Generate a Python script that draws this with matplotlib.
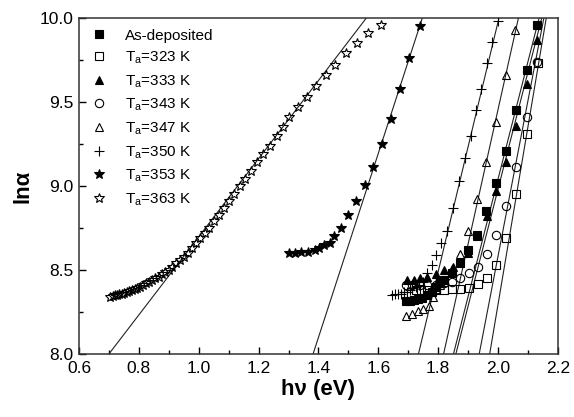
import matplotlib
matplotlib.use("Agg")
import matplotlib.pyplot as plt
from matplotlib.ticker import MultipleLocator

plt.rcParams['font.family'] = ['Liberation Sans', 'DejaVu Sans']

# ---------- data (hv in eV, ln(alpha)) ----------
asdep_x = [1.692, 1.705, 1.718, 1.731, 1.746, 1.764, 1.778, 1.792, 1.806, 1.820,
           1.846, 1.873, 1.901, 1.931, 1.961, 1.994, 2.026, 2.059, 2.098, 2.131]
asdep_y = [8.315, 8.318, 8.32, 8.33, 8.335, 8.35, 8.37, 8.40, 8.42, 8.44,
           8.48, 8.54, 8.62, 8.71, 8.85, 9.02, 9.21, 9.45, 9.69, 9.96]

t323_x = [1.725, 1.742, 1.764, 1.792, 1.820, 1.846, 1.873, 1.903, 1.933, 1.962,
          1.994, 2.026, 2.061, 2.098, 2.132]
t323_y = [8.38, 8.38, 8.38, 8.38, 8.38, 8.385, 8.385, 8.39, 8.415, 8.45,
          8.53, 8.69, 8.95, 9.31, 9.73]

t333_x = [1.695, 1.720, 1.740, 1.764, 1.792, 1.820, 1.848, 1.873, 1.901, 1.931,
          1.964, 1.994, 2.026, 2.061, 2.098, 2.131]
t333_y = [8.44, 8.44, 8.45, 8.46, 8.476, 8.50, 8.52, 8.55, 8.60, 8.70,
          8.82, 8.97, 9.145, 9.36, 9.61, 9.87]

t343_x = [1.693, 1.713, 1.740, 1.764, 1.792, 1.820, 1.846, 1.873, 1.903, 1.933,
          1.962, 1.994, 2.026, 2.061, 2.098, 2.131]
t343_y = [8.41, 8.41, 8.41, 8.41, 8.41, 8.42, 8.43, 8.45, 8.48, 8.52,
          8.595, 8.71, 8.88, 9.115, 9.41, 9.74]

t347_x = [1.694, 1.711, 1.731, 1.748, 1.768, 1.781, 1.792, 1.806, 1.820, 1.846,
          1.873, 1.898, 1.931, 1.961, 1.994, 2.026, 2.057]
t347_y = [8.226, 8.24, 8.256, 8.27, 8.286, 8.34, 8.385, 8.41, 8.44, 8.504,
          8.595, 8.73, 8.92, 9.14, 9.38, 9.66, 9.93]

t350_x = [1.645, 1.655, 1.665, 1.675, 1.685, 1.695, 1.705, 1.714, 1.725, 1.737,
          1.750, 1.764, 1.778, 1.792, 1.809, 1.828, 1.850, 1.870, 1.890, 1.909,
          1.926, 1.944, 1.962, 1.981, 2.001]
t350_y = [8.35, 8.36, 8.36, 8.36, 8.37, 8.37, 8.38, 8.39, 8.40, 8.41,
          8.43, 8.48, 8.53, 8.59, 8.66, 8.73, 8.87, 9.03, 9.165, 9.30,
          9.45, 9.58, 9.73, 9.855, 9.98]

t353_x = [1.300, 1.320, 1.342, 1.364, 1.387, 1.403, 1.420, 1.437, 1.453, 1.476,
          1.500, 1.527, 1.554, 1.582, 1.612, 1.641, 1.673, 1.704, 1.738]
t353_y = [8.60, 8.60, 8.605, 8.61, 8.62, 8.63, 8.65, 8.66, 8.70, 8.75,
          8.83, 8.91, 9.006, 9.115, 9.25, 9.40, 9.576, 9.76, 9.952]

t363_x = [0.705, 0.712, 0.719, 0.727, 0.735, 0.743, 0.751, 0.759, 0.768, 0.777,
          0.786, 0.795, 0.804, 0.814, 0.824, 0.834, 0.844, 0.855, 0.866, 0.877,
          0.888, 0.900, 0.912, 0.924, 0.937, 0.950, 0.963, 0.977, 0.991, 1.005,
          1.020, 1.035, 1.051, 1.067, 1.084, 1.101, 1.119, 1.137, 1.156, 1.175,
          1.195, 1.216, 1.237, 1.260, 1.281, 1.302, 1.332, 1.362, 1.393, 1.424,
          1.456, 1.491, 1.528, 1.566, 1.608]
t363_y = [8.34, 8.345, 8.35, 8.352, 8.355, 8.36, 8.365, 8.37, 8.375, 8.38,
          8.385, 8.39, 8.40, 8.41, 8.42, 8.43, 8.44, 8.45, 8.46, 8.475,
          8.49, 8.50, 8.52, 8.54, 8.56, 8.58, 8.60, 8.63, 8.66, 8.69,
          8.72, 8.75, 8.79, 8.83, 8.87, 8.91, 8.95, 9.00, 9.04, 9.09,
          9.14, 9.19, 9.24, 9.30, 9.35, 9.41, 9.47, 9.53, 9.595, 9.66,
          9.72, 9.79, 9.85, 9.91, 9.96]

# linear fits: hv where the line crosses ln(alpha)=8 and ln(alpha)=10
fit_lny = [8.0, 10.0]
fit_hv = [
    [0.700, 1.560],   # 363 K
    [1.382, 1.747],   # 353 K
    [1.734, 2.003],   # 350 K
    [1.818, 2.068],   # 347 K
    [1.851, 2.137],   # as-deposited
    [1.859, 2.146],   # 333 K
    [1.937, 2.153],   # 343 K
    [1.972, 2.161],   # 323 K
]

labels = ['As-deposited', r'T$_\mathregular{a}$=323 K', r'T$_\mathregular{a}$=333 K',
          r'T$_\mathregular{a}$=343 K', r'T$_\mathregular{a}$=347 K', r'T$_\mathregular{a}$=350 K',
          r'T$_\mathregular{a}$=353 K', r'T$_\mathregular{a}$=363 K']

series = [
    (asdep_x, asdep_y, 's', 'k', 5.5),
    (t323_x, t323_y, 's', 'none', 5.5),
    (t333_x, t333_y, '^', 'k', 6.0),
    (t343_x, t343_y, 'o', 'none', 6.0),
    (t347_x, t347_y, '^', 'none', 6.0),
    (t350_x, t350_y, '+', 'k', 7.5),
    (t353_x, t353_y, '*', 'k', 7.5),
    (t363_x, t363_y, '*', 'none', 7.0),
]

fig = plt.figure(figsize=(5.74, 4.17), dpi=100)
ax = fig.add_axes([0.1376, 0.1511, 0.8344, 0.8057])

for hv in fit_hv:
    ax.plot(hv, fit_lny, color='#222222', linewidth=0.8, zorder=2)

for (x, y, m, fc, ms), lab in zip(series, labels):
    ax.plot(x, y, linestyle='none', marker=m, markersize=ms,
            markerfacecolor=fc, markeredgecolor='k', markeredgewidth=0.8,
            color='k', label=lab, zorder=3)

ax.set_xlim(0.6, 2.2)
ax.set_ylim(8.0, 10.0)
ax.xaxis.set_major_locator(MultipleLocator(0.2))
ax.xaxis.set_minor_locator(MultipleLocator(0.1))
ax.yaxis.set_major_locator(MultipleLocator(0.5))
ax.yaxis.set_minor_locator(MultipleLocator(0.25))
ax.xaxis.set_major_formatter(plt.FormatStrFormatter('%.1f'))
ax.yaxis.set_major_formatter(plt.FormatStrFormatter('%.1f'))
ax.tick_params(which='both', direction='in', top=False, right=False,
               labelsize=12.5, width=1.0)
ax.tick_params(which='major', length=5)
ax.tick_params(axis='x', which='major', pad=5)
ax.tick_params(axis='y', which='major', pad=4)
ax.tick_params(which='minor', length=3)
for s in ax.spines.values():
    s.set_linewidth(1.1)
    s.set_color('#333333')

ax.set_xlabel('hν (eV)', fontsize=16, fontweight='bold', labelpad=2)
ax.set_ylabel('lnα', fontsize=16, fontweight='bold', labelpad=4)

ax.legend(loc='upper left', bbox_to_anchor=(0.0, 1.0), frameon=False,
          fontsize=11, handlelength=1.2, handletextpad=1.1,
          labelspacing=0.45, borderaxespad=0.3, numpoints=1)

fig.savefig('out.png', dpi=100, facecolor='white')
